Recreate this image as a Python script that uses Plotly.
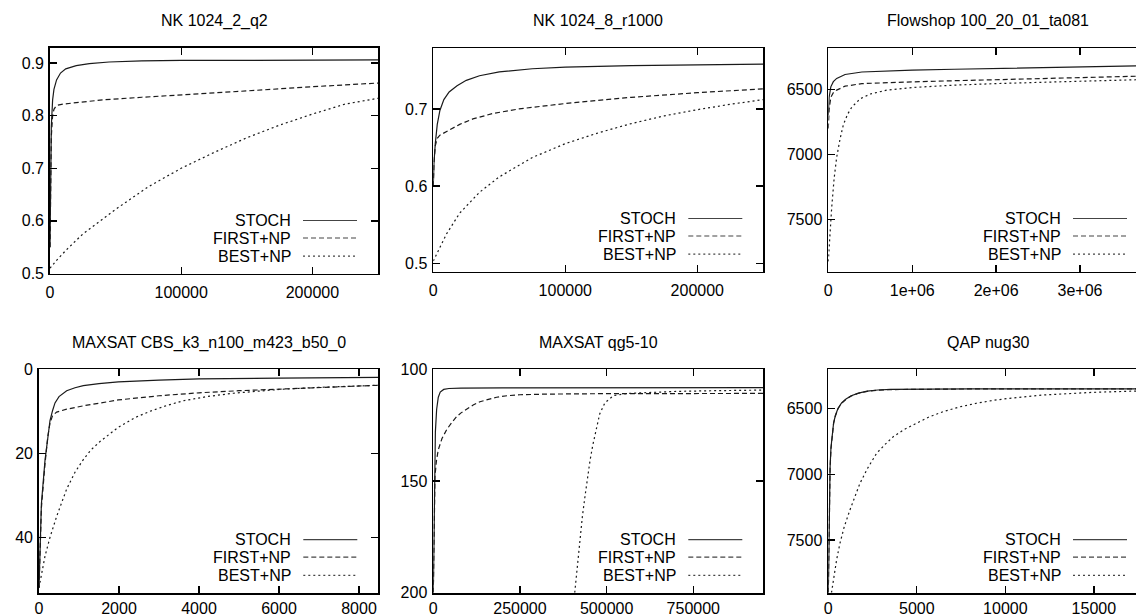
import plotly.graph_objects as go

W, H = 1136, 616

SERIES_NAMES = ["STOCH", "FIRST+NP", "BEST+NP"]
PANEL_TITLES = ["NK 1024_2_q2", "NK 1024_8_r1000", "Flowshop 100_20_01_ta081",
                "MAXSAT CBS_k3_n100_m423_b50_0", "MAXSAT qg5-10", "QAP nug30"]

# ---------------- Panel 1: NK 1024_2_q2 ----------------
nk2_stoch_x = [0, 500, 1000, 2000, 3000, 5000, 8000, 12000, 20000, 30000, 45000, 70000, 100000, 150000, 250000]
nk2_stoch_y = [0.55, 0.70, 0.78, 0.83, 0.85, 0.868, 0.881, 0.889, 0.895, 0.899, 0.902, 0.904, 0.905, 0.905, 0.906]
nk2_first_x = [0, 500, 1000, 2000, 3000, 4500, 6000, 10000, 20000, 40000, 70000, 100000, 150000, 200000, 250000]
nk2_first_y = [0.55, 0.70, 0.76, 0.80, 0.812, 0.818, 0.820, 0.822, 0.825, 0.830, 0.835, 0.839, 0.847, 0.855, 0.862]
nk2_best_x = [0, 5000, 12500, 25000, 50000, 75000, 100000, 125000, 150000, 175000, 200000, 225000, 250000]
nk2_best_y = [0.51, 0.525, 0.545, 0.575, 0.622, 0.665, 0.700, 0.730, 0.758, 0.782, 0.803, 0.822, 0.833]

# ---------------- Panel 2: NK 1024_8_r1000 ----------------
nk8_stoch_x = [0, 500, 1500, 3000, 5000, 8000, 12000, 18000, 25000, 35000, 50000, 75000, 100000, 150000, 200000, 250000]
nk8_stoch_y = [0.60, 0.63, 0.655, 0.68, 0.698, 0.712, 0.722, 0.730, 0.737, 0.743, 0.748, 0.752, 0.754, 0.756, 0.757, 0.758]
nk8_first_x = [0, 500, 1500, 3000, 5000, 8000, 12000, 20000, 30000, 45000, 65000, 100000, 150000, 200000, 250000]
nk8_first_y = [0.60, 0.63, 0.652, 0.662, 0.666, 0.669, 0.673, 0.680, 0.687, 0.694, 0.700, 0.707, 0.715, 0.721, 0.726]
nk8_best_x = [0, 3000, 10000, 20000, 35000, 50000, 75000, 100000, 125000, 150000, 175000, 200000, 225000, 250000]
nk8_best_y = [0.503, 0.513, 0.538, 0.565, 0.592, 0.612, 0.637, 0.655, 0.669, 0.681, 0.691, 0.699, 0.706, 0.712]

# ---------------- Panel 3: Flowshop 100_20_01_ta081 ----------------
fs_stoch_x = [0, 10000, 30000, 60000, 100000, 200000, 400000, 700000, 1000000, 1500000, 2000000, 3000000, 3700000]
fs_stoch_y = [6700, 6560, 6480, 6440, 6415, 6385, 6366, 6357, 6352, 6345, 6339, 6327, 6318]
fs_first_x = [0, 10000, 30000, 60000, 100000, 200000, 400000, 700000, 1000000, 1500000, 2000000, 3000000, 3700000]
fs_first_y = [6800, 6650, 6560, 6525, 6505, 6475, 6455, 6447, 6442, 6433, 6425, 6410, 6398]
fs_best_x = [0, 20000, 40000, 70000, 100000, 140000, 180000, 230000, 280000, 380000, 500000, 700000, 1000000, 1500000, 2000000, 3000000, 3700000]
fs_best_y = [7820, 7600, 7410, 7180, 7020, 6880, 6770, 6690, 6636, 6572, 6535, 6505, 6485, 6467, 6455, 6437, 6425]

# ---------------- Panel 4: MAXSAT CBS_k3_n100_m423_b50_0 ----------------
cbs_stoch_x = [0, 60, 150, 220, 275, 340, 400, 500, 692, 900, 1108, 1500, 1983, 3000, 4000, 6000, 8483]
cbs_stoch_y = [52, 32, 21.7, 15.5, 12.2, 9.8, 8.0, 6.5, 5.1, 4.4, 3.9, 3.4, 3.0, 2.6, 2.3, 2.1, 1.9]
cbs_first_x = [0, 60, 150, 220, 275, 340, 442, 692, 1108, 1500, 1983, 3000, 4000, 5000, 6000, 7000, 8483]
cbs_first_y = [52, 33, 22.5, 16, 12.8, 11.0, 10.2, 9.5, 8.7, 8.0, 7.3, 6.3, 5.6, 5.1, 4.7, 4.3, 3.8]
cbs_best_x = [0, 50, 150, 275, 442, 692, 900, 1108, 1300, 1525, 1983, 2400, 2775, 3200, 3608, 4200, 4858, 6000, 7000, 8483]
cbs_best_y = [52, 49.5, 44.5, 40, 35, 28.5, 24.5, 21.5, 19.2, 17.2, 13.8, 11.5, 10.0, 8.6, 7.5, 6.5, 5.7, 4.8, 4.3, 3.8]

# ---------------- Panel 5: MAXSAT qg5-10 ----------------
qg_stoch_x = [0, 2000, 4000, 6000, 9600, 14400, 20000, 30000, 45000, 80000, 200000, 500000, 952000]
qg_stoch_y = [200, 165, 140, 128, 118, 112.5, 110.2, 109.0, 108.6, 108.4, 108.3, 108.2, 108.2]
qg_first_x = [0, 2000, 4800, 9000, 14400, 25000, 38500, 55000, 67300, 80000, 96200, 115000, 134600, 160000, 182700, 215000, 250000, 327000, 500000, 952000]
qg_first_y = [200, 170, 148, 141, 136, 131, 127, 123.5, 121.2, 119.5, 117.7, 116, 114.5, 113.3, 112.5, 111.8, 111.4, 111.1, 110.9, 110.8]
qg_best_x = [408000, 415000, 423000, 430000, 437500, 445000, 452000, 460000, 470000, 480000, 495000, 520000, 560000, 620000, 700000, 800000, 952000]
qg_best_y = [200, 188, 176, 166, 157, 148, 141, 134, 127, 120, 115, 111.8, 110.8, 110.3, 109.9, 109.6, 109.3]

# ---------------- Panel 6: QAP nug30 ----------------
qap_stoch_x = [0, 30, 60, 100, 150, 220, 300, 400, 550, 750, 1000, 1300, 1700, 2200, 2800, 3500, 5000, 8000, 12000, 17380]
qap_stoch_y = [7900, 7450, 7150, 6950, 6800, 6690, 6610, 6555, 6500, 6460, 6430, 6405, 6385, 6370, 6361, 6357, 6354, 6353, 6352, 6352]
qap_first_x = [0, 30, 60, 100, 150, 220, 300, 400, 550, 750, 1000, 1300, 1700, 2200, 2800, 3500, 5000, 8000, 12000, 17380]
qap_first_y = [7900, 7480, 7170, 6960, 6810, 6695, 6615, 6558, 6503, 6462, 6432, 6406, 6386, 6371, 6362, 6358, 6355, 6353, 6352, 6352]
qap_best_x = [180, 300, 470, 658, 900, 1222, 1500, 1786, 2200, 2726, 3200, 3666, 4300, 4981, 5700, 6485, 7400, 8365, 9300, 10245, 12124, 14944, 17380]
qap_best_y = [7900, 7780, 7650, 7525, 7400, 7272, 7170, 7070, 6960, 6842, 6775, 6716, 6660, 6614, 6565, 6526, 6490, 6462, 6440, 6424, 6399, 6379, 6369]

# ---------------- Axes: ranges and tick labels ----------------
X_RANGES = [[0, 250000], [0, 250000], [0, 3667000], [0, 8483], [0, 952000], [0, 17380]]
Y_RANGES = [[0.5, 0.9286], [0.4894, 0.7785], [7898, 6184], [53.2, 0], [200, 100], [7900, 6204]]

X_TICKVALS = [[0, 100000, 200000], [0, 100000, 200000], [0, 1000000, 2000000, 3000000],
              [0, 2000, 4000, 6000, 8000], [0, 250000, 500000, 750000], [0, 5000, 10000, 15000]]
X_TICKTEXT = [["0", "100000", "200000"], ["0", "100000", "200000"], ["0", "1e+06", "2e+06", "3e+06"],
              ["0", "2000", "4000", "6000", "8000"], ["0", "250000", "500000", "750000"],
              ["0", "5000", "10000", "15000"]]
Y_TICKVALS = [[0.5, 0.6, 0.7, 0.8, 0.9], [0.5, 0.6, 0.7], [6500, 7000, 7500],
              [0, 20, 40], [100, 150, 200], [6500, 7000, 7500]]
Y_TICKTEXT = [["0.5", "0.6", "0.7", "0.8", "0.9"], ["0.5", "0.6", "0.7"], ["6500", "7000", "7500"],
              ["0", "20", "40"], ["100", "150", "200"], ["6500", "7000", "7500"]]

PANEL_DATA = [
    [(nk2_stoch_x, nk2_stoch_y), (nk2_first_x, nk2_first_y), (nk2_best_x, nk2_best_y)],
    [(nk8_stoch_x, nk8_stoch_y), (nk8_first_x, nk8_first_y), (nk8_best_x, nk8_best_y)],
    [(fs_stoch_x, fs_stoch_y), (fs_first_x, fs_first_y), (fs_best_x, fs_best_y)],
    [(cbs_stoch_x, cbs_stoch_y), (cbs_first_x, cbs_first_y), (cbs_best_x, cbs_best_y)],
    [(qg_stoch_x, qg_stoch_y), (qg_first_x, qg_first_y), (qg_best_x, qg_best_y)],
    [(qap_stoch_x, qap_stoch_y), (qap_first_x, qap_first_y), (qap_best_x, qap_best_y)],
]

# ---------------- Layout (pixel boxes: left, right, top, bottom) ----------------
BOXES = [(50, 378, 48, 273.5), (433.3, 763.3, 48.3, 271.5), (828.3, 1136, 48.3, 271.5),
         (39, 378.3, 369.3, 592.7), (433.3, 763.3, 369.3, 592.7), (828.3, 1136, 369.3, 592.7)]
TRUE_RIGHT = [378, 763.3, 1148, 378.3, 763.3, 1148]   # visual right edge (cropped panels)
DASHES = ["solid", "5px,3px", "2px,3px"]
FONT = "Liberation Sans, Arial, sans-serif"

fig = go.Figure()
shapes, annotations = [], []

for i in range(6):
    l, r, t, b = BOXES[i]
    sfx = "" if i == 0 else str(i + 1)
    xa, ya = "x" + sfx, "y" + sfx
    for k, (xs, ys) in enumerate(PANEL_DATA[i]):
        fig.add_trace(go.Scatter(x=xs, y=ys, mode="lines", xaxis=xa, yaxis=ya,
                                 showlegend=False, name=SERIES_NAMES[k],
                                 line=dict(color="#1a1a1a", width=1.2, dash=DASHES[k])))
    cropped = TRUE_RIGHT[i] > W
    common = dict(showgrid=False, zeroline=False, showline=True, linecolor="black", linewidth=1.8,
                  ticks="inside", ticklen=7, tickwidth=1.3, tickcolor="black", automargin=False,
                  tickfont=dict(family=FONT, size=16, color="black"))
    fig.layout["xaxis" + sfx] = dict(
        domain=[l / W, min(r / W, 1.0)], anchor=ya, range=X_RANGES[i],
        tickvals=X_TICKVALS[i], ticktext=X_TICKTEXT[i], mirror="ticks",
        ticklabelstandoff=3 if i < 3 else 0, **common)
    fig.layout["yaxis" + sfx] = dict(
        domain=[1 - b / H, 1 - t / H], anchor=xa, range=Y_RANGES[i],
        tickvals=Y_TICKVALS[i], ticktext=Y_TICKTEXT[i],
        mirror=False if cropped else "ticks", ticklabelstandoff=1, **common)

    # panel title
    cx = (l + TRUE_RIGHT[i]) / 2
    ty = 21 if i < 3 else 343
    annotations.append(dict(text=PANEL_TITLES[i], x=cx / W, y=1 - ty / H, xref="paper", yref="paper",
                            xanchor="center", yanchor="middle", showarrow=False,
                            font=dict(family=FONT, size=16, color="black")))
    # gnuplot-style key: right aligned text, sample on the right
    tr = TRUE_RIGHT[i]
    rows = [b - 53, b - 35.5, b - 17.3]
    for k in range(3):
        annotations.append(dict(text=SERIES_NAMES[k], x=(tr - 85) / W, y=1 - rows[k] / H,
                                xref="paper", yref="paper", xanchor="right", yanchor="middle",
                                showarrow=False, font=dict(family=FONT, size=16, color="black")))
        shapes.append(dict(type="line", xref="paper", yref="paper",
                           x0=(tr - 75) / W, x1=(tr - 21) / W,
                           y0=1 - rows[k] / H, y1=1 - rows[k] / H,
                           line=dict(color="#444444", width=1.2, dash=DASHES[k])))

fig.update_layout(width=W, height=H, margin=dict(l=0, r=0, t=0, b=0),
                  paper_bgcolor="white", plot_bgcolor="white",
                  shapes=shapes, annotations=annotations, showlegend=False)

fig.write_html("out.html", config={"displayModeBar": False, "staticPlot": True},
               post_script="document.body.style.margin='0';document.body.style.overflow='hidden';")
